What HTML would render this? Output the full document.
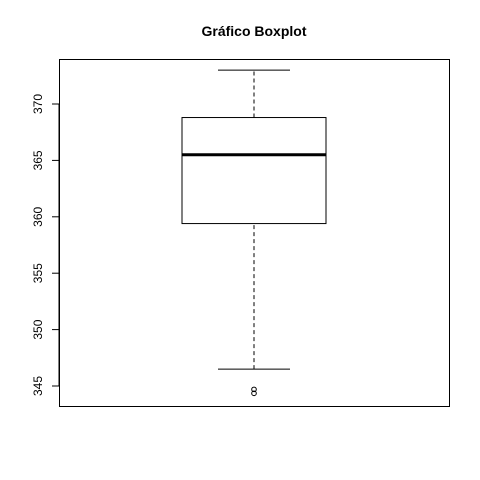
<!DOCTYPE html>
<html><head><meta charset="utf-8"><style>body{margin:0;background:#fff}svg{display:block}</style></head>
<body>
<svg id="c" width="480" height="480" xmlns="http://www.w3.org/2000/svg" font-family="Liberation Sans, sans-serif">
<text x="254" y="36" text-anchor="middle" font-weight="bold" font-size="14">Gráfico Boxplot</text>
<rect x="59.5" y="59.5" width="390" height="347" fill="none" stroke="#000"/>
<g id="g"></g>
</svg>
<script>
const yTicks=[345,350,355,360,365,370];
const stats=[346.5,359.4,365.5,368.8,373.0];
const outliers=[344.7,344.35];
const y=v=>386-(v-345)*(386-104)/25;
const g=document.getElementById('g');
const NS='http://www.w3.org/2000/svg';
function mk(t,a,name){const e=document.createElementNS(NS,t);for(const k in a)e.setAttribute(k,a[k]);


g.appendChild(e);return e;}
mk('line',{x1:59,x2:59,y1:y(yTicks[0]),y2:y(yTicks[yTicks.length-1]),stroke:'#000'},'y-axis');
yTicks.forEach(t=>{const yy=y(t);
mk('line',{x1:52,x2:59,y1:yy,y2:yy,stroke:'#000'},'y-tick');
const tx=mk('text',{x:0,y:0,'font-size':12,'text-anchor':'middle',transform:`translate(42,${yy}) rotate(-90)`},'y-tick-label');tx.textContent=t;});
const cx=254,bw=72,cw=36;
mk('line',{x1:cx,x2:cx,y1:y(stats[0]),y2:y(stats[1]),stroke:'#000','stroke-dasharray':'4,3'},'lower-whisker');
mk('line',{x1:cx,x2:cx,y1:y(stats[3]),y2:y(stats[4]),stroke:'#000','stroke-dasharray':'4,3'},'upper-whisker');
mk('line',{x1:cx-cw,x2:cx+cw,y1:y(stats[0]),y2:y(stats[0]),stroke:'#000'},'lower-cap');
mk('line',{x1:cx-cw,x2:cx+cw,y1:y(stats[4]),y2:y(stats[4]),stroke:'#000'},'upper-cap');
mk('rect',{x:cx-bw,y:y(stats[3]),width:2*bw,height:y(stats[1])-y(stats[3]),fill:'#fff',stroke:'#000'},'box');
mk('line',{x1:cx-bw,x2:cx+bw,y1:y(stats[2]),y2:y(stats[2]),stroke:'#000','stroke-width':3},'median-line');
outliers.forEach(o=>mk('circle',{cx:cx,cy:y(o),r:2.3,fill:'none',stroke:'#000'},'outlier'));
</script>
</body></html>
